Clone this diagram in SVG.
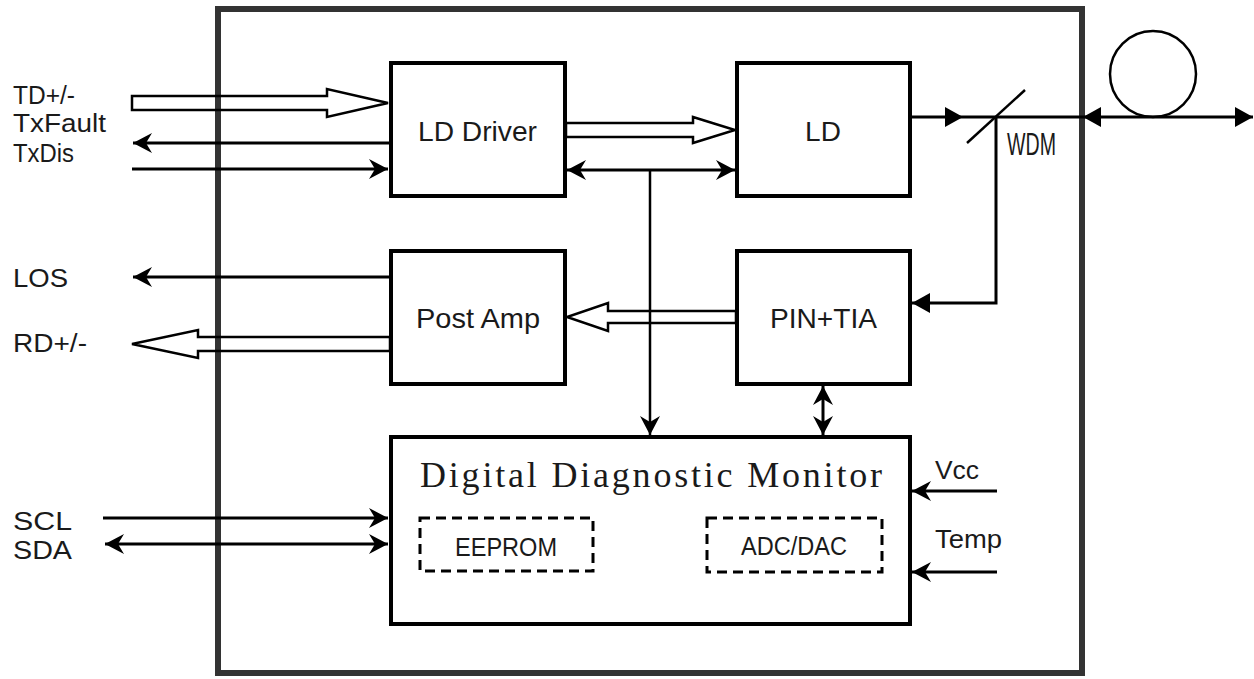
<svg xmlns="http://www.w3.org/2000/svg" width="1254" height="679" viewBox="0 0 1254 679">
<style>
.box{fill:none;stroke:#000;stroke-width:4}
.dash{fill:none;stroke:#000;stroke-width:3;stroke-dasharray:10 6}
.ln{fill:none;stroke:#000;stroke-width:3}
.thin{fill:none;stroke:#000;stroke-width:2.5}
.hol{fill:none;stroke:#000;stroke-width:2.5;stroke-linejoin:miter}
.t{font-family:"Liberation Sans",Arial,sans-serif;font-size:26px;fill:#1a1a1a}
.tb{font-family:"Liberation Sans",Arial,sans-serif;font-size:28px;fill:#1a1a1a}
.ser{font-family:"Liberation Serif","DejaVu Serif",serif;font-size:36px;fill:#1a1a1a}
</style>
<defs>
<marker id="arr" markerUnits="userSpaceOnUse" viewBox="-20 -11 22 22" refX="0" refY="0" markerWidth="22" markerHeight="22" orient="auto-start-reverse">
<path d="M0,0 L-19,-10 L-13,0 L-19,10 Z" fill="#000"/>
</marker>
<marker id="tri" markerUnits="userSpaceOnUse" viewBox="-20 -11 22 22" refX="0" refY="0" markerWidth="22" markerHeight="22" orient="auto-start-reverse">
<path d="M0,0 L-18,-10 L-18,10 Z" fill="#000"/>
</marker>
</defs>
<rect width="1254" height="679" fill="#fff"/>
<g id="frame">
<rect x="218" y="9" width="864" height="664" fill="none" stroke="#333" stroke-width="6"/>
</g>
<g id="connectors">
<polygon class="hol" points="132,96 327,96 327,89 388,103 327,117 327,110 132,110"/>
<line class="ln" x1="390" y1="143" x2="133" y2="143" marker-end="url(#arr)"/>
<line class="ln" x1="132" y1="169" x2="388" y2="169" marker-end="url(#arr)"/>
<polygon class="hol" points="566,123 693,123 693,117 735,130 693,143 693,137 566,137"/>
<line class="ln" x1="567" y1="170" x2="735" y2="170" marker-start="url(#arr)" marker-end="url(#arr)"/>
<line class="thin" x1="650" y1="170" x2="650" y2="435" marker-end="url(#arr)"/>
<line class="ln" x1="390" y1="277" x2="133" y2="277" marker-end="url(#arr)"/>
<polygon class="hol" points="390,337 198,337 198,330 132,344 198,358 198,351 390,351"/>
<polygon class="hol" points="736,311 608,311 608,303 567,317 608,331 608,323 736,323"/>
<line class="ln" x1="823" y1="386" x2="823" y2="435" marker-start="url(#arr)" marker-end="url(#arr)"/>
<line class="ln" x1="910" y1="117" x2="963" y2="117" marker-end="url(#tri)"/>
<line class="ln" x1="963" y1="117" x2="1083" y2="117"/>
<line class="ln" x1="1083" y1="117" x2="1253" y2="117" marker-start="url(#tri)" marker-end="url(#tri)"/>
<line class="thin" x1="967" y1="143" x2="1025" y2="90"/>
<path class="ln" d="M996,117 V303 H912" marker-end="url(#tri)"/>
<line class="ln" x1="103" y1="518" x2="388" y2="518" marker-end="url(#arr)"/>
<line class="ln" x1="105" y1="544" x2="388" y2="544" marker-start="url(#arr)" marker-end="url(#arr)"/>
<line class="ln" x1="997" y1="491" x2="912" y2="491" marker-end="url(#arr)"/>
<line class="ln" x1="997" y1="572" x2="912" y2="572" marker-end="url(#arr)"/>
</g>
<g id="fiber">
<circle cx="1153" cy="74" r="43" fill="none" stroke="#000" stroke-width="2.5"/>
</g>
<g id="ld-driver">
<rect class="box" x="391" y="63" width="174" height="133"/>
<text class="tb" x="418" y="141" textLength="119" lengthAdjust="spacingAndGlyphs">LD Driver</text>
</g>
<g id="ld">
<rect class="box" x="737" y="63" width="173" height="133"/>
<text class="tb" x="823" y="141" text-anchor="middle">LD</text>
</g>
<g id="post-amp">
<rect class="box" x="391" y="251" width="174" height="133"/>
<text class="tb" x="416" y="328" textLength="124" lengthAdjust="spacingAndGlyphs">Post Amp</text>
</g>
<g id="pin-tia">
<rect class="box" x="737" y="251" width="173" height="133"/>
<text class="tb" x="770" y="328" textLength="107" lengthAdjust="spacingAndGlyphs">PIN+TIA</text>
</g>
<g id="ddm">
<rect class="box" x="391" y="437" width="519" height="187"/>
<text class="ser" x="420" y="487" textLength="462" lengthAdjust="spacing">Digital Diagnostic Monitor</text>
</g>
<g id="eeprom">
<rect class="dash" x="420" y="518" width="173" height="53"/>
<text class="t" x="455" y="556" textLength="102" lengthAdjust="spacingAndGlyphs">EEPROM</text>
</g>
<g id="adc-dac">
<rect class="dash" x="707" y="518" width="175" height="54"/>
<text class="t" x="741" y="555" textLength="106" lengthAdjust="spacingAndGlyphs">ADC/DAC</text>
</g>
<g id="wdm">
<text x="1007" y="155" font-family="'Liberation Sans',Arial,sans-serif" font-size="32" fill="#1a1a1a" textLength="49" lengthAdjust="spacingAndGlyphs">WDM</text>
</g>
<g id="labels">
<text class="t" x="13" y="104" textLength="62" lengthAdjust="spacingAndGlyphs">TD+/-</text>
<text class="t" x="13" y="132" textLength="93" lengthAdjust="spacingAndGlyphs">TxFault</text>
<text class="t" x="13" y="162" textLength="61" lengthAdjust="spacingAndGlyphs">TxDis</text>
<text class="t" x="13" y="287" textLength="55" lengthAdjust="spacingAndGlyphs">LOS</text>
<text class="t" x="13" y="352" textLength="74" lengthAdjust="spacingAndGlyphs">RD+/-</text>
<text class="t" x="13" y="530" textLength="59" lengthAdjust="spacingAndGlyphs">SCL</text>
<text class="t" x="13" y="559" textLength="59" lengthAdjust="spacingAndGlyphs">SDA</text>
<text class="t" x="935" y="479" textLength="44" lengthAdjust="spacingAndGlyphs">Vcc</text>
<text class="t" x="935" y="548" textLength="67" lengthAdjust="spacingAndGlyphs">Temp</text>
</g>
</svg>
